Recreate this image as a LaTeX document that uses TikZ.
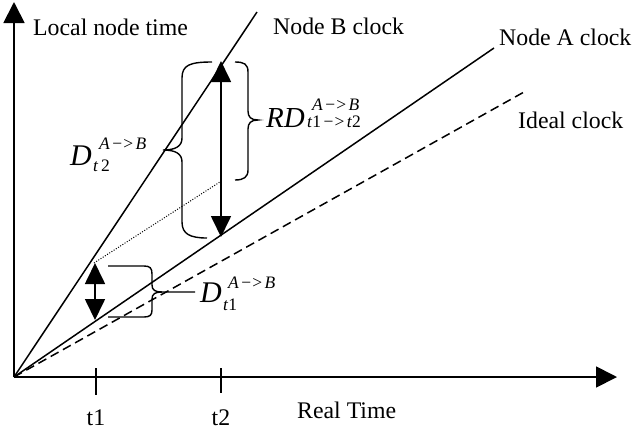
\documentclass[tikz,border=0pt]{standalone}
\usepackage{fontspec}
\setmainfont{Liberation Serif}
\usetikzlibrary{arrows.meta}
\newcommand{\arr}{\kern2.5pt\textup{−}\kern1pt\textup{>}\kern2.5pt}
\begin{document}
\begin{tikzpicture}[x=1pt,y=-1pt,
  txt/.style={inner sep=0pt,anchor=base west,font=\fontsize{23.8}{28}\selectfont},
  bigsym/.style={inner sep=0pt,anchor=base west,font=\fontsize{30}{36}\selectfont\itshape},
  smallsym/.style={inner sep=0pt,anchor=base west,font=\fontsize{17.5}{20}\selectfont\itshape},
  axis/.style={line width=1.8pt,-{Triangle[length=21pt,width=21pt]}},
  clockline/.style={line width=1.5pt},
  dbl/.style={line width=1.7pt,{Triangle[length=21pt,width=20pt]}-{Triangle[length=21pt,width=20pt]}},
  brace/.style={line width=1.4pt},
  tick/.style={line width=1.5pt}]
\useasboundingbox (0,0) rectangle (634,432);
% coordinates
\coordinate (O) at (14,377);
\coordinate (Ytop) at (14,2);
\coordinate (Xend) at (617,377);
\coordinate (Bend) at (257,12);
\coordinate (Aend) at (494,48);
\coordinate (Iend) at (524,92);
\coordinate (dotS) at (94,263);
\coordinate (dotE) at (223,180);
\coordinate (t1top) at (96,368);
\coordinate (t1bot) at (96,395);
\coordinate (t2top) at (221,368);
\coordinate (t2bot) at (221,393);
\coordinate (a1top) at (95,263);
\coordinate (a1bot) at (95,320);
\coordinate (a2top) at (221,61);
\coordinate (a2bot) at (221,237);
% axes
\draw[axis] (O) -- (Ytop);
\draw[axis] (O) -- (Xend);
% clock lines
\draw[clockline] (O) -- (Bend);
\draw[clockline] (O) -- (Aend);
\draw[clockline,dash pattern=on 9pt off 5pt] (O) -- (Iend);
\draw[line width=1pt,dash pattern=on 1pt off 1.6pt] (dotS) -- (dotE);
% ticks
\draw[tick] (t1top) -- (t1bot);
\draw[tick] (t2top) -- (t2bot);
% double arrows
\draw[dbl] (a1top) -- (a1bot);
\draw[dbl] (a2top) -- (a2bot);
% brace D t2 (left facing)
\draw[brace] (212,62) .. controls (190,62) and (182,65) .. (182,78) -- (182,138)
  .. controls (182,146) and (176,150) .. (163,150)
  .. controls (176,150) and (182,154) .. (182,162) -- (182,222)
  .. controls (182,234) and (190,238) .. (207,238);
% brace RD (right facing)
\draw[brace] (235,62) .. controls (244,62) and (248,64) .. (248,72) -- (248,111)
  .. controls (248,117) and (251,120) .. (258,120)
  .. controls (251,120) and (248,123) .. (248,129) -- (248,170)
  .. controls (248,177) and (244,180) .. (235,180);
% brace D t1 (right facing, long tip)
\draw[brace] (108,266) -- (144,266) .. controls (150,266) and (152,268) .. (152,274) -- (152,285)
  .. controls (152,290) and (155,292) .. (162,292) -- (195,292);
\draw[brace] (162,292) .. controls (155,292) and (152,294) .. (152,299) -- (152,310)
  .. controls (152,315) and (150,317) .. (144,317) -- (108,317);
% texts
\node[txt] (lnt) at (33,35) {Local node time};
\node[txt] (nbc) at (273,34) {Node B clock};
\node[txt] (nac) at (499,45) {Node A clock};
\node[txt] (ic) at (518,128) {Ideal clock};
\node[txt] (rt) at (297,418) {Real Time};
\node[txt,anchor=base] (lt1) at (96,425) {t1};
\node[txt,anchor=base] (lt2) at (221,425) {t2};
% D t2 label
\node[bigsym] (d2) at (70,165) {D};
\node[smallsym] (d2sup) at (99,149) {A\arr B};
\node[smallsym] (d2sub) at (93,171) {t\kern3pt\textup{2}};
% RD label
\node[bigsym,font=\fontsize{29}{34}\selectfont\itshape] (rd) at (266,127) {RD};
\node[smallsym] (rdsup) at (312,110) {A\arr B};
\node[smallsym] (rdsub) at (307,127) {t\textup{1}\arr t\textup{2}};
% D t1 label
\node[bigsym] (d1) at (200,302) {D};
\node[smallsym] (d1sup) at (228,288) {A\arr B};
\node[smallsym] (d1sub) at (223,310) {t\textup{1}};
\end{tikzpicture}
\end{document}
